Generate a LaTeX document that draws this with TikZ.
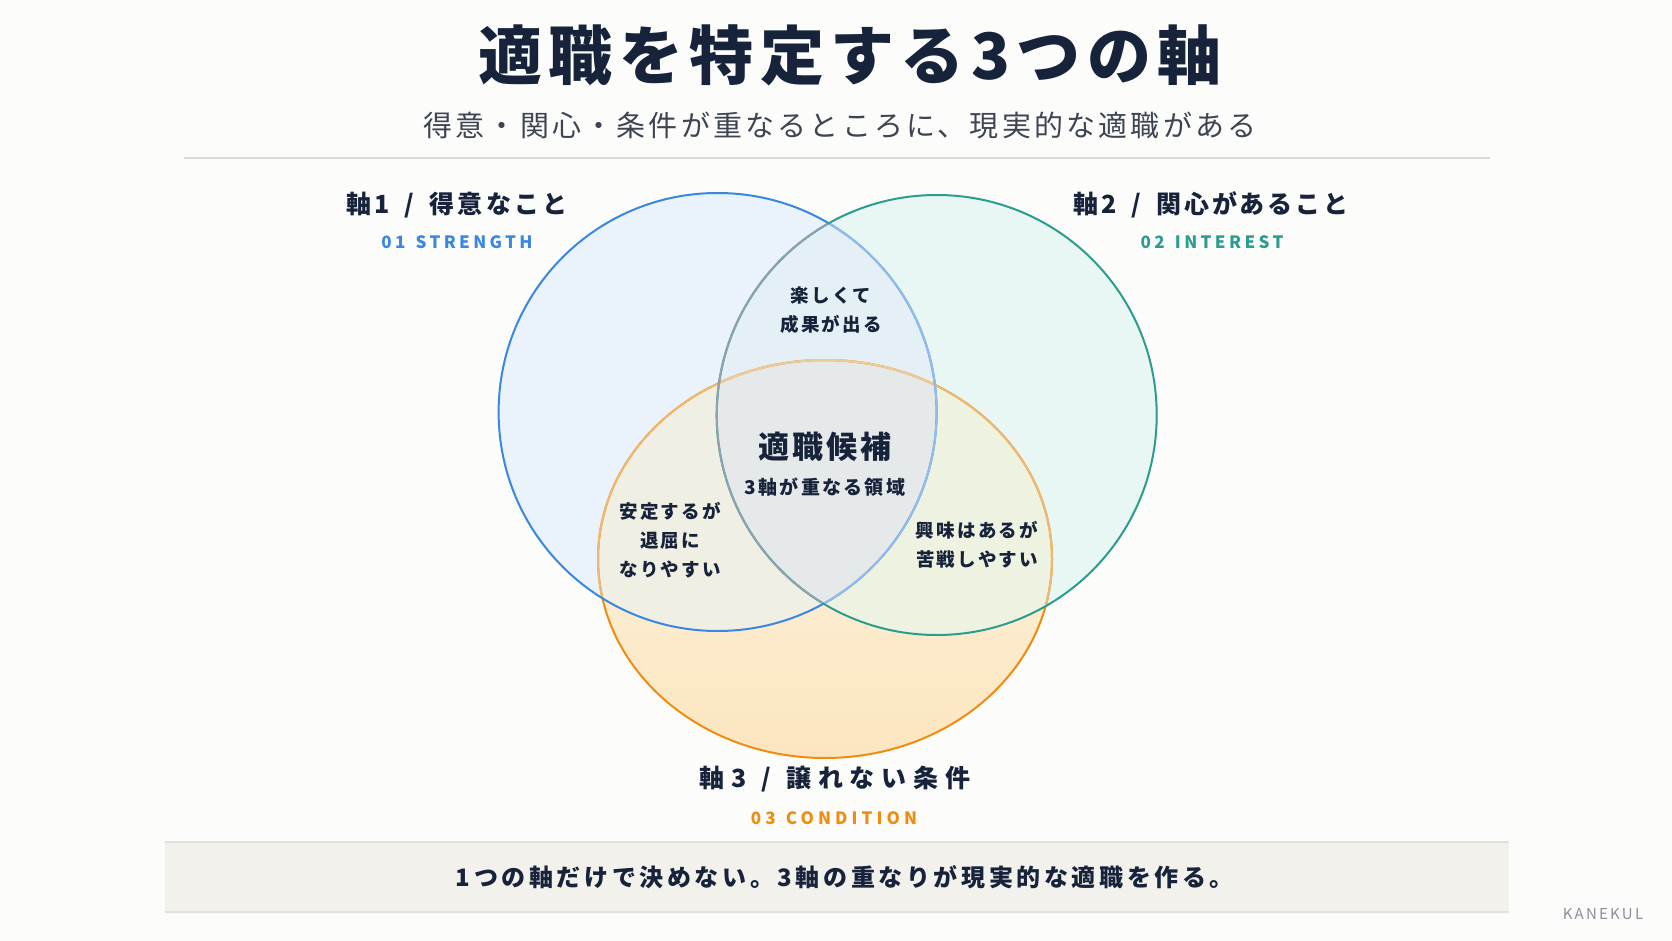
\documentclass[tikz,border=0pt]{standalone}
\usepackage{fontspec}
\setmainfont{Noto Sans CJK JP}
\definecolor{navy}{HTML}{16233A}
\definecolor{subgray}{HTML}{3E4552}
\definecolor{bgc}{HTML}{FCFCFB}
\definecolor{rulec}{HTML}{DADADA}
\definecolor{bluec}{HTML}{3A87E2}
\definecolor{bluefade}{HTML}{93BCEA}
\definecolor{tealc}{HTML}{2A9D8F}
\definecolor{tealfade}{HTML}{8FA1AC}
\definecolor{orangec}{HTML}{F08C10}
\definecolor{orangefade}{HTML}{EDB874}
\definecolor{orangefade2}{HTML}{EBCB9C}
\definecolor{bF}{HTML}{EAF2FC}
\definecolor{tF}{HTML}{E8F7F3}
\definecolor{oTop}{HTML}{FDF4E4}
\definecolor{oBot}{HTML}{FCE6C0}
\definecolor{btF}{HTML}{E4EFF6}
\definecolor{boF}{HTML}{F0EFE4}
\definecolor{toF}{HTML}{EEF2E1}
\definecolor{allF}{HTML}{E5E9EA}
\definecolor{boxf}{HTML}{F3F1EC}
\definecolor{boxl}{HTML}{E3E0D8}
\definecolor{markc}{HTML}{8A9099}
\newcommand{\fsz}[2]{\fontsize{#1}{#2}\selectfont}
\newcommand{\lsp}[1]{\addfontfeature{LetterSpace=#1}}
\newcommand{\wsp}{\hspace{0.6em}}
\begin{document}
\begin{tikzpicture}[x=1pt,y=-1pt,
  every node/.style={inner sep=0pt, outer sep=0pt},
  ring/.style={line width=2pt},
  axislabel/.style={text=navy, font=\fsz{25}{30}\bfseries\lsp{13}},
  engl/.style={font=\fsz{17}{20}\bfseries\lsp{20}},
  region/.style={text=navy, align=center, font=\fsz{18.5}{29}\bfseries\lsp{12}},
]
\useasboundingbox (0,0) rectangle (1672,941);
\fill[bgc] (0,0) rectangle (1672,941);

% title
\node[text=navy, font=\fsz{64}{70}\bfseries\lsp{10}] (title) at (850,55) {適職を特定する3つの軸};
\node[text=subgray, font=\fsz{29}{34}\lsp{11}] (subtitle) at (840,125) {得意・関心・条件が重なるところに、現実的な適職がある};
\draw[rulec, line width=1.5pt] (184,158) -- (1490,158);

% venn centres
\coordinate (cb) at (717.6,412);
\coordinate (ct) at (936.7,415);
\coordinate (co) at (825,559);
\def\rb{219pt}
\def\rt{220pt}
\def\rox{227pt}
\def\roy{199pt}

% fills
\shade[top color=oTop, bottom color=oBot] (co) ellipse [x radius=\rox, y radius=\roy];
\fill[bF] (cb) circle [radius=\rb];
\fill[tF] (ct) circle [radius=\rt];
\begin{scope}
  \clip (ct) circle [radius=\rt];
  \fill[toF] (co) ellipse [x radius=\rox, y radius=\roy];
\end{scope}
\begin{scope}
  \clip (cb) circle [radius=\rb];
  \fill[btF] (ct) circle [radius=\rt];
  \fill[boF] (co) ellipse [x radius=\rox, y radius=\roy];
  \clip (ct) circle [radius=\rt];
  \fill[allF] (co) ellipse [x radius=\rox, y radius=\roy];
\end{scope}

% strokes
\draw[ring, orangec] (co) ellipse [x radius=\rox, y radius=\roy];
\begin{scope}
  \clip (cb) circle [radius=218pt];
  \draw[ring, orangefade] (co) ellipse [x radius=\rox, y radius=\roy];
\end{scope}
\begin{scope}
  \clip (ct) circle [radius=219pt];
  \draw[ring, orangefade] (co) ellipse [x radius=\rox, y radius=\roy];
  \clip (cb) circle [radius=218pt];
  \draw[ring, orangefade2] (co) ellipse [x radius=\rox, y radius=\roy];
\end{scope}
\draw[ring, bluec] (cb) circle [radius=\rb];
\draw[ring, tealc] (ct) circle [radius=\rt];
\begin{scope}
  \clip (ct) circle [radius=219pt];
  \draw[ring, bluefade] (cb) circle [radius=\rb];
\end{scope}
\begin{scope}
  \clip (cb) circle [radius=218pt];
  \draw[ring, tealfade] (ct) circle [radius=\rt];
\end{scope}

% axis labels
\node[axislabel] (l1) at (457,205) {軸1\wsp{}/\wsp{}得意なこと};
\node[engl, text=bluec] (e1) at (457,242) {01\wsp{}STRENGTH};
\node[axislabel, font=\fsz{25}{30}\bfseries\lsp{11}] (l2) at (1211,205) {軸2\wsp{}/\wsp{}関心があること};
\node[engl, text=tealc] (e2) at (1212,242) {02\wsp{}INTEREST};
\node[axislabel, font=\fsz{25}{30}\bfseries\lsp{27}] (l3) at (835,779) {軸3\wsp{}/\wsp{}譲れない条件};
\node[engl, text=orangec, font=\fsz{17}{20}\bfseries\lsp{24}] (e3) at (834,818) {03\wsp{}CONDITION};

% regions
\node[region] (r12) at (831,310.5) {楽しくて\\成果が出る};
\node[text=navy, font=\fsz{31}{36}\bfseries\lsp{10}] (core) at (825,447) {適職候補};
\node[text=navy, font=\fsz{19}{24}\bfseries\lsp{12}] (coresub) at (825,487) {3軸が重なる領域};
\node[region] (r13) at (670,540) {安定するが\\退屈に\\なりやすい};
\node[region] (r23) at (977,544.5) {興味はあるが\\苦戦しやすい};

% bottom box
\fill[boxf] (165,842) rectangle (1509,912);
\draw[boxl, line width=1.5pt] (165,842) -- (1509,842);
\draw[boxl, line width=1.5pt] (165,912) -- (1509,912);
\node[text=navy, font=\fsz{24}{28}\bfseries\lsp{15}] (msg) at (845,877) {1つの軸だけで決めない。3軸の重なりが現実的な適職を作る。};
\node[text=markc, font=\fsz{15}{17}\lsp{15}] (brand) at (1603,914) {KANEKUL};
\end{tikzpicture}
\end{document}
